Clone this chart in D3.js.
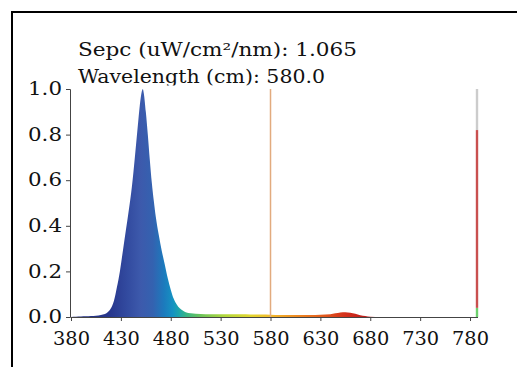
<!DOCTYPE html>
<html>
<head>
<meta charset="utf-8">
<script src="https://cdn.jsdelivr.net/npm/d3@7"></script>
<style>
  html, body { margin: 0; padding: 0; background: #fff; }
  svg { display: block; }
  text { font-family: "DejaVu Serif", serif; fill: #111; }
</style>
</head>
<body>
<svg id="chart" width="517" height="367"></svg>
<script>
// ---- data ----
const wavelengths = [380, 385, 390, 395, 400, 405, 410, 414, 417, 420, 423, 426, 429, 432, 435, 438, 441, 444, 447, 449, 451, 452, 453, 455, 457, 459, 461, 463, 465, 468, 471, 474, 477, 480, 483, 486, 489, 492, 495, 500, 510, 520, 530, 540, 550, 560, 570, 580, 590, 600, 610, 620, 630, 640, 645, 650, 655, 660, 665, 670, 675, 680, 690, 700, 720, 740, 760, 780, 786];
const spectrum =    [0,   0.001, 0.002, 0.003, 0.004, 0.006, 0.009, 0.013, 0.022, 0.038, 0.07, 0.13, 0.2, 0.29, 0.38, 0.47, 0.57, 0.7, 0.84, 0.93, 0.99, 1.0, 0.98, 0.9, 0.8, 0.69, 0.59, 0.51, 0.44, 0.36, 0.29, 0.23, 0.17, 0.12, 0.08, 0.055, 0.038, 0.028, 0.021, 0.016, 0.013, 0.012, 0.012, 0.012, 0.012, 0.011, 0.011, 0.01, 0.009, 0.009, 0.009, 0.009, 0.01, 0.012, 0.016, 0.02, 0.021, 0.019, 0.014, 0.008, 0.004, 0.001, 0, 0, 0, 0, 0, 0, 0];
const xTicks = [380, 430, 480, 530, 580, 630, 680, 730, 780];
const yTicks = [0.0, 0.2, 0.4, 0.6, 0.8, 1.0];
const cursorWavelength = 580.0;
const cursorSpec = 1.065;
const markerWavelength = 787;
const markerSegments = [
  { from: 0.0, to: 0.04, color: "#6dd16d" },
  { from: 0.04, to: 0.82, color: "#c9504f" },
  { from: 0.82, to: 1.0, color: "#cccccc" }
];
const gradientStops = [
  { nm: 380, color: "#212c7c" },
  { nm: 420, color: "#28388e" },
  { nm: 436, color: "#324a9f" },
  { nm: 450, color: "#3d5aac" },
  { nm: 462, color: "#3462b0" },
  { nm: 473, color: "#1c7abd" },
  { nm: 482, color: "#1592c2" },
  { nm: 488, color: "#1ca4ac" },
  { nm: 496, color: "#38b684" },
  { nm: 510, color: "#6cc45a" },
  { nm: 535, color: "#b4d83c" },
  { nm: 560, color: "#e2d630" },
  { nm: 580, color: "#f2bb2c" },
  { nm: 605, color: "#ee8c22" },
  { nm: 630, color: "#e4601e" },
  { nm: 655, color: "#d4301c" },
  { nm: 680, color: "#b81818" },
  { nm: 786, color: "#b81818" }
];

// ---- layout ----
const svg = d3.select("#chart");
const x = d3.scaleLinear().domain([380, 788]).range([71, 478]);
const y = d3.scaleLinear().domain([0, 1]).range([317, 89]);

// frame
svg.append("rect")
  .attr("x", 12).attr("y", 12).attr("width", 540).attr("height", 400)
  .attr("fill", "none").attr("stroke", "#000").attr("stroke-width", 2);

// header text
const header = svg.append("g").attr("font-size", 18);
header.append("text").attr("x", 78).attr("y", 56)
  .attr("textLength", 279).attr("lengthAdjust", "spacingAndGlyphs")
  .text("Sepc (uW/cm\u00B2/nm): " + cursorSpec.toFixed(3));
header.append("text").attr("x", 78).attr("y", 83)
  .attr("textLength", 247).attr("lengthAdjust", "spacingAndGlyphs")
  .text("Wavelength (cm): " + cursorWavelength.toFixed(1));

// plot background covering text descenders
svg.append("rect")
  .attr("x", 72).attr("y", 85.5).attr("width", 420).attr("height", 230)
  .attr("fill", "#fff");

// gradient
const defs = svg.append("defs");
const grad = defs.append("linearGradient")
  .attr("id", "specGrad")
  .attr("gradientUnits", "userSpaceOnUse")
  .attr("x1", x(380)).attr("x2", x(786)).attr("y1", 0).attr("y2", 0);
grad.selectAll("stop").data(gradientStops).join("stop")
  .attr("offset", d => (d.nm - 380) / (786 - 380))
  .attr("stop-color", d => d.color);

const data = wavelengths.map((w, i) => ({ w, v: spectrum[i] }));
const area = d3.area()
  .x(d => x(d.w))
  .y0(y(0))
  .y1(d => y(d.v))
  .curve(d3.curveMonotoneX);
svg.append("path").datum(data)
  .attr("d", area)
  .attr("fill", "url(#specGrad)");

// cursor line
svg.append("line")
  .attr("x1", x(cursorWavelength)).attr("x2", x(cursorWavelength))
  .attr("y1", y(1)).attr("y2", y(0))
  .attr("stroke", "#e2ab7e").attr("stroke-width", 1.5);

// marker line segments
svg.selectAll(".seg").data(markerSegments).join("line")
  .attr("class", "seg")
  .attr("x1", x(markerWavelength)).attr("x2", x(markerWavelength))
  .attr("y1", d => y(d.from)).attr("y2", d => y(d.to))
  .attr("stroke", d => d.color).attr("stroke-width", 2.4);

// axes
const xAxis = d3.axisBottom(x).tickValues(xTicks).tickFormat(d3.format("d")).tickSizeOuter(0).tickSize(4).tickPadding(11);
const yAxis = d3.axisLeft(y).tickValues(yTicks).tickFormat(d3.format(".1f")).tickSizeOuter(0).tickSize(4).tickPadding(4);

const gx = svg.append("g").attr("transform", `translate(0,${y(0)})`).call(xAxis);
const gy = svg.append("g").attr("transform", `translate(${x(380) - 1},0)`).call(yAxis);
[gx, gy].forEach(g => {
  g.selectAll("text").attr("font-family", "DejaVu Serif").attr("font-size", 18).attr("fill", "#111");
  g.selectAll("line").attr("stroke", "#444");
  g.select(".domain").attr("stroke", "#444");
});
gx.selectAll("text").attr("textLength", 37).attr("lengthAdjust", "spacingAndGlyphs");
gy.selectAll("text").attr("textLength", 34).attr("lengthAdjust", "spacingAndGlyphs");
gx.select(".domain").attr("d", `M${x(380)},0.5H${x(788)}`);
</script>
</body>
</html>
